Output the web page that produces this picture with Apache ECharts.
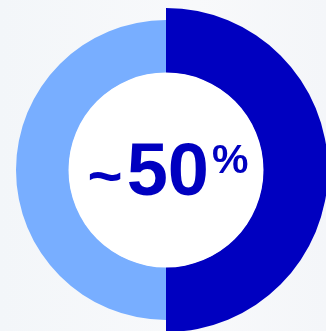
<!DOCTYPE html>
<html>
<head>
<meta charset="utf-8">
<script src="https://cdn.jsdelivr.net/npm/echarts@6/dist/echarts.min.js"></script>
<style>
html,body{margin:0;padding:0;background:#f5f7fa;}
#c{width:326px;height:331px;}
</style>
</head>
<body>
<div id="c"></div>
<script>
const categories = ['Share', 'Rest'];
const values = [50, 50];
const centerPrefix = '~';
const centerLabel = '50';
const centerUnit = '%';

const chart = echarts.init(document.getElementById('c'), null, {renderer: 'canvas'});
const dark = '#0000c0';
const light = '#78aeff';
chart.setOption({
  backgroundColor: {
    type: 'linear', x: 0, y: 0, x2: 1, y2: 0,
    colorStops: [
      {offset: 0, color: '#f3f6f9'},
      {offset: 0.6, color: '#f8f9fb'},
      {offset: 1, color: '#f4f6f9'}
    ]
  },
  animation: false,
  series: [
    {
      type: 'pie', silent: true, center: [166, 170], radius: [97, 162], z: 1,
      startAngle: 90, clockwise: true, label: {show: false},
      data: [
        {name: categories[0], value: values[0], itemStyle: {color: dark}},
        {name: categories[1], value: values[1], itemStyle: {color: 'rgba(0,0,0,0)'}}
      ]
    },
    {
      type: 'pie', silent: true, center: [166, 170], radius: [97, 150], z: 1,
      startAngle: 90, clockwise: true, label: {show: false},
      data: [
        {name: categories[0], value: values[0], itemStyle: {color: 'rgba(0,0,0,0)'}},
        {name: categories[1], value: values[1], itemStyle: {color: light}}
      ]
    },
    {
      type: 'pie', silent: true, center: [166, 170], radius: [0, 97.5], z: 1,
      label: {show: false}, labelLine: {show: false},
      data: [{name: 'center', value: 1, itemStyle: {color: '#ffffff'}}]
    }
  ],
  graphic: {
    elements: [{
      type: 'text', silent: true, x: 168, y: 174, z: 100, zlevel: 0,
      style: {
        text: '{c|' + centerPrefix + '}{a|' + centerLabel + '}{b|' + centerUnit + '}',
        align: 'center', verticalAlign: 'middle',
        fill: dark,
        rich: {
          c: {fontFamily: 'Liberation Sans', fontWeight: 'bold', fontSize: 60, fill: dark, lineHeight: 76, verticalAlign: 'bottom', padding: [0, 4, 3, 0]},
          a: {fontFamily: 'Liberation Sans', fontWeight: 'bold', fontSize: 74, fill: dark, lineHeight: 76, verticalAlign: 'bottom'},
          b: {fontFamily: 'Liberation Sans', fontWeight: 'bold', fontSize: 41, fill: dark, lineHeight: 41, verticalAlign: 'top', padding: [5, 0, 0, 3]}
        }
      }
    }]
  }
});
</script>
</body>
</html>
